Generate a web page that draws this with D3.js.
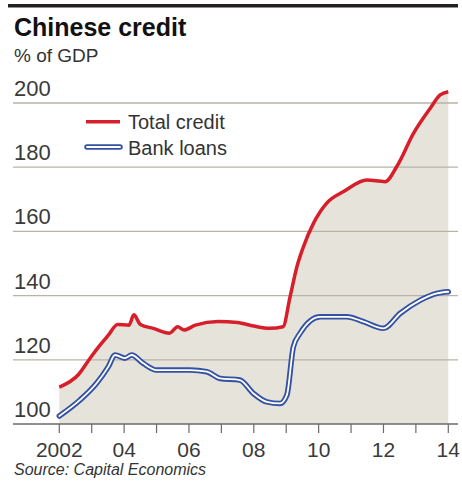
<!DOCTYPE html>
<html>
<head>
<meta charset="utf-8">
<script src="https://cdn.jsdelivr.net/npm/d3@7"></script>
<style>
  body { margin: 0; background: #fff; }
  text { font-family: "Liberation Sans", Arial, sans-serif; fill: #333; }
</style>
</head>
<body>
<div id="chart"></div>
<script>
// data (fractional years)
var creditYears = [2002.0, 2002.6, 2002.95, 2003.25, 2003.5, 2003.8, 2004.15, 2004.3, 2004.5, 2004.9,
  2005.4, 2005.65, 2005.85, 2006.2, 2006.9, 2007.5, 2008.0, 2008.5, 2008.9, 2009.12,
  2009.33, 2009.53, 2009.84, 2010.25, 2010.77, 2011.49, 2012.05, 2012.41, 2012.93, 2013.44,
  2013.75, 2014.0];
var totalCredit = [111.5, 115.5, 120.5, 124.5, 127.5, 131, 130.8, 134, 131, 129.8,
  128.3, 130.3, 129.3, 130.8, 131.9, 131.6, 130.5, 129.8, 130.3, 139.7,
  149, 155.2, 162.5, 168.8, 172.4, 176, 175.5, 180.2, 190.6, 198.3,
  202.5, 203.5];

var loanYears = [2002.0, 2002.64, 2003.15, 2003.51, 2003.72, 2004.03, 2004.23, 2004.59, 2005.0, 2006.03,
  2006.55, 2006.96, 2007.57, 2007.99, 2008.4, 2008.81, 2009.02, 2009.22, 2009.43, 2010.05,
  2010.87, 2011.38, 2012.0, 2012.52, 2013.14, 2013.65, 2014.0];
var bankLoans = [102.5, 107.5, 112.7, 117.8, 121.5, 120.5, 121.5, 118.9, 116.8, 116.8,
  116.3, 114.2, 113.7, 109.5, 106.9, 106.4, 109, 124, 128.3, 133.4,
  133.4, 131.9, 129.8, 134.5, 138.6, 140.7, 141.2];

var yTicks = [100, 120, 140, 160, 180, 200];
var xTicks = d3.range(2002, 2015);
var xLabels = {2002: '2002', 2004: '04', 2006: '06', 2008: '08', 2010: '10', 2012: '12', 2014: '14'};

var width = 462, height = 483;
var svg = d3.select('#chart').append('svg')
    .attr('width', width)
    .attr('height', height);

var x = d3.scaleLinear().domain([2002, 2014]).range([59.3, 448.3]);
var y = d3.scaleLinear().domain([100, 200]).range([424, 103]);

// top rule
svg.append('rect').attr('x', 8).attr('y', 4).attr('width', 450).attr('height', 3.5).attr('fill', '#231f20');

// titles
svg.append('text').text('Chinese credit')
    .attr('x', 14).attr('y', 36)
    .style('font-size', '25px').style('font-weight', 'bold').style('fill', '#111');
svg.append('text').text('% of GDP')
    .attr('x', 14).attr('y', 62)
    .style('font-size', '19px');

var credit = creditYears.map((d, i) => ({x: d, y: totalCredit[i]}));
var loans = loanYears.map((d, i) => ({x: d, y: bankLoans[i]}));

// shaded area under total credit
var area = d3.area().curve(d3.curveMonotoneX)
    .x(d => x(d.x)).y0(y(100)).y1(d => y(d.y));
svg.append('path').datum(credit).attr('d', area).attr('fill', '#e6e3da');

// gridlines
svg.append('g').selectAll('line').data(yTicks.slice(1)).join('line')
    .attr('x1', 13).attr('x2', 458)
    .attr('y1', d => y(d)).attr('y2', d => y(d))
    .attr('stroke', '#b9b3a7').attr('stroke-width', 1.3);

svg.append('g').selectAll('text').data(yTicks).join('text')
    .text(d => d)
    .attr('x', 14).attr('y', d => y(d) - 7)
    .style('font-size', '22px').style('fill', '#3a3a3a');

// x axis
svg.append('line').attr('x1', 13).attr('x2', 458).attr('y1', y(100)).attr('y2', y(100))
    .attr('stroke', '#6b6b6b').attr('stroke-width', 1.5);
svg.append('g').selectAll('line').data(xTicks).join('line')
    .attr('x1', d => x(d)).attr('x2', d => x(d))
    .attr('y1', y(100)).attr('y2', y(100) + 9)
    .attr('stroke', '#6b6b6b').attr('stroke-width', 1.2);
svg.append('g').selectAll('text').data(xTicks.filter(d => xLabels[d])).join('text')
    .text(d => xLabels[d])
    .attr('x', d => x(d)).attr('y', 456.5)
    .attr('text-anchor', 'middle')
    .style('font-size', '21px').style('fill', '#3a3a3a');

// lines
var line = d3.line().curve(d3.curveMonotoneX).x(d => x(d.x)).y(d => y(d.y));
svg.append('path').datum(loans).attr('d', line)
    .attr('fill', 'none').attr('stroke', '#3452a4').attr('stroke-width', 5.5)
    .attr('stroke-linejoin', 'round').attr('stroke-linecap', 'round');
svg.append('path').datum(loans).attr('d', line)
    .attr('fill', 'none').attr('stroke', '#fff').attr('stroke-width', 1.8)
    .attr('stroke-linejoin', 'round').attr('stroke-linecap', 'round');
svg.append('path').datum(credit).attr('d', line)
    .attr('fill', 'none').attr('stroke', '#d71f2b').attr('stroke-width', 3.5)
    .attr('stroke-linejoin', 'round');

// legend
var legend = svg.append('g');
legend.append('line').attr('x1', 86).attr('x2', 120).attr('y1', 121.7).attr('y2', 121.7)
    .attr('stroke', '#d71f2b').attr('stroke-width', 3.5);
legend.append('line').attr('x1', 87).attr('x2', 120).attr('y1', 147).attr('y2', 147)
    .attr('stroke', '#3452a4').attr('stroke-width', 5.5).attr('stroke-linecap', 'round');
legend.append('line').attr('x1', 87).attr('x2', 120).attr('y1', 147).attr('y2', 147)
    .attr('stroke', '#fff').attr('stroke-width', 1.8).attr('stroke-linecap', 'round');
legend.append('text').text('Total credit').attr('x', 128).attr('y', 129)
    .style('font-size', '20px');
legend.append('text').text('Bank loans').attr('x', 128).attr('y', 155)
    .style('font-size', '20px');

// source
svg.append('text').text('Source: Capital Economics')
    .attr('x', 14).attr('y', 475)
    .style('font-size', '16px').style('font-style', 'italic').style('fill', '#333');
</script>
</body>
</html>
